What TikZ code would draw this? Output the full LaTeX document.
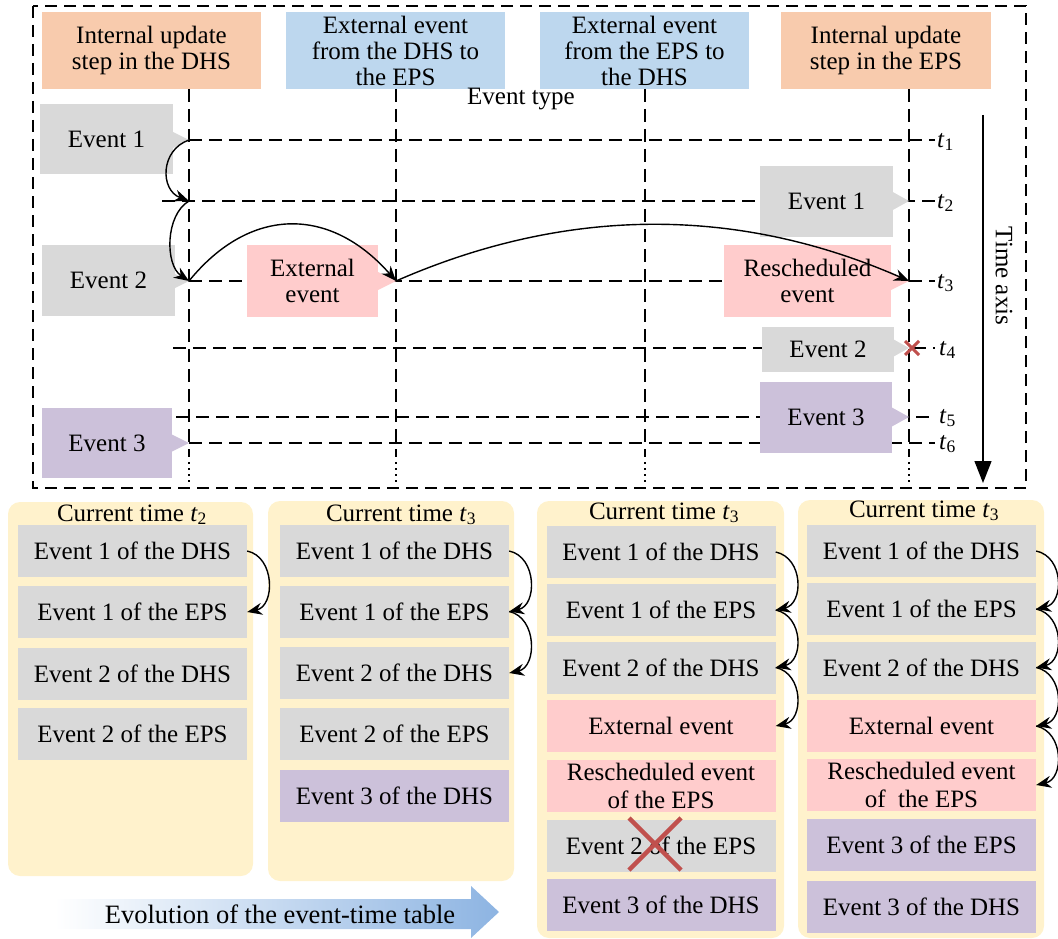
\documentclass[tikz,border=0pt]{standalone}
\usepackage{fontspec}
\setmainfont{Liberation Serif}
\usetikzlibrary{arrows.meta}
\definecolor{evgray}{RGB}{217,217,217}
\definecolor{evpink}{RGB}{255,204,204}
\definecolor{evpurple}{RGB}{204,193,218}
\definecolor{hdorange}{RGB}{248,203,173}
\definecolor{hdblue}{RGB}{189,215,238}
\definecolor{panelbg}{RGB}{255,242,204}
\definecolor{xred}{RGB}{192,80,77}
\definecolor{arrowblue}{RGB}{141,180,226}
\begin{document}
\begin{tikzpicture}[x=1pt,y=-1pt,font=\fontsize{25}{26}\selectfont,
  hdr/.style={inner sep=0pt,align=center,minimum height=77pt},
  evbox/.style={inner sep=0pt,align=center},
  gridline/.style={line width=1.5pt,dash pattern=on 13pt off 7pt},
  dotline/.style={line width=1.5pt,dash pattern=on 2pt off 4pt},
  tlabel/.style={anchor=west,inner sep=0pt},
  tarrow/.style={line width=1.4pt,-{Stealth[length=15pt,width=12pt]}},
  barrow/.style={line width=1.4pt,-{Stealth[length=15pt,width=12pt]}},
  tblrow/.style={inner sep=0pt,minimum width=229pt,minimum height=52pt,align=center,font=\fontsize{25}{28}\selectfont},
  panel/.style={fill=panelbg,rounded corners=12pt},
  title/.style={anchor=base,inner sep=0pt},
  redx/.style={draw=xred,line width=3.5pt}]
\useasboundingbox (0,0) rectangle (1058,939);

% outer dashed frame
\draw[line width=1.5pt,dash pattern=on 12pt off 7pt] (33,6) rectangle (1026,488);

% header boxes
\node[hdr,fill=hdorange,minimum width=219pt] (h1) at (151.5,50.5) {Internal update\\step in the DHS};
\node[hdr,fill=hdblue,minimum width=219pt] (h2) at (395.5,50.5) {External event\\from the DHS to\\the EPS};
\node[hdr,fill=hdblue,minimum width=209pt] (h3) at (644.5,50.5) {External event\\from the EPS to\\the DHS};
\node[hdr,fill=hdorange,minimum width=210pt] (h4) at (886,50.5) {Internal update\\step in the EPS};
\node (etype) at (521,99) {Event type};

% vertical grid lines
\foreach \x in {189,396,645,909}{
  \draw[gridline] (\x,89) -- (\x,457);
  \draw[dotline] (\x,462) -- (\x,482);
}
% horizontal time lines
\draw[gridline] (189,140) -- (935,140);
\draw[gridline] (162,201) -- (935,201);
\draw[gridline] (189,281) -- (935,281);
\draw[gridline] (173,348) -- (935,348);
\draw[gridline] (176,417) -- (935,417);
\draw[gridline] (189,443) -- (935,443);

\node[tlabel] (t1) at (937,142) {\textit{t}\textsubscript{1}};
\node[tlabel] (t2) at (937,203) {\textit{t}\textsubscript{2}};
\node[tlabel] (t3) at (937,283) {\textit{t}\textsubscript{3}};
\node[tlabel] (t4) at (939,350) {\textit{t}\textsubscript{4}};
\node[tlabel] (t5) at (939,418) {\textit{t}\textsubscript{5}};
\node[tlabel] (t6) at (939,444) {\textit{t}\textsubscript{6}};

% tips
\coordinate (tpA) at (189,140);
\coordinate (tpB) at (189,201);
\coordinate (tpC) at (189,281);
\coordinate (tpD) at (396,281);
\coordinate (tpE) at (189,443);
\coordinate (tpF) at (909,201);
\coordinate (tpG) at (909,281);
\coordinate (tpH) at (909,348);
\coordinate (tpI) at (909,417);

% event boxes
\node[evbox,fill=evgray,minimum width=133pt,minimum height=70pt] (le1) at (106.5,139) {Event 1};
\node[evbox,fill=evgray,minimum width=133pt,minimum height=71pt] (le2) at (108.5,280.5) {Event 2};
\node[evbox,fill=evpink,minimum width=131pt,minimum height=72pt] (ext) at (312.5,281) {External\\event};
\node[evbox,fill=evpurple,minimum width=130pt,minimum height=70pt] (le3) at (107,443) {Event 3};
\node[evbox,fill=evgray,minimum width=133pt,minimum height=71pt] (re1) at (826.5,201.5) {Event 1};
\node[evbox,fill=evpink,minimum width=167pt,minimum height=72pt] (resch) at (807.5,281) {Rescheduled\\event};
\node[evbox,fill=evgray,minimum width=132pt,minimum height=45pt] (re2) at (828,349.5) {Event 2};
\node[evbox,fill=evpurple,minimum width=132pt,minimum height=71pt] (re3) at (826,417.5) {Event 3};

\fill[evgray] (tpA) -- ++(-18,-9) -- ++(0,18) -- cycle;
\fill[evgray] (tpC) -- ++(-18,-9) -- ++(0,18) -- cycle;
\fill[evpink] (tpD) -- ++(-18,-9) -- ++(0,18) -- cycle;
\fill[evpurple] (tpE) -- ++(-18,-9) -- ++(0,18) -- cycle;
\fill[evgray] (tpF) -- ++(-18,-10) -- ++(0,20) -- cycle;
\fill[evpink] (tpG) -- ++(-18,-9) -- ++(0,18) -- cycle;
\fill[evgray] (tpH) -- ++(-18,-10) -- ++(0,20) -- cycle;
\fill[evpurple] (tpI) -- ++(-18,-10) -- ++(0,20) -- cycle;

% event arrows
\draw[tarrow] (tpA) .. controls (160,150) and (160,190) .. (tpB);
\draw[tarrow] (tpB) .. controls (165,215) and (165,265) .. (tpC);
\draw[tarrow] (tpC) .. controls (250,206) and (330,206) .. (tpD);
\draw[tarrow] (tpD) .. controls (567,206) and (738,206) .. (tpG);

% cancelled event
\draw[redx,line width=3pt] (905,341) -- (919,355) (905,355) -- (919,341);

% time axis
\coordinate (ta1) at (983,115);
\coordinate (ta2) at (983,483);
\draw[line width=1.3pt,-{Triangle[length=22pt,width=17pt]}] (ta1) -- (ta2);
\node[rotate=-90] (taxis) at (1004,276) {Time axis};

% ---------- event-time tables ----------
\fill[panel] (8,502) rectangle (253,876);
\fill[panel] (268,501) rectangle (514,881);
\fill[panel] (537,501) rectangle (784,938);
\fill[panel] (798,500) rectangle (1044,938);

\node[title] (c1) at (132,521) {Current time \textit{t}\textsubscript{2}};
\node[title] (c2) at (401,521) {Current time \textit{t}\textsubscript{3}};
\node[title] (c3) at (664,519) {Current time \textit{t}\textsubscript{3}};
\node[title] (c4) at (924,517) {Current time \textit{t}\textsubscript{3}};

% panel 1
\node[tblrow,fill=evgray] (a1) at (132.5,551) {Event 1 of the DHS};
\node[tblrow,fill=evgray] (a2) at (132.5,612) {Event 1 of the EPS};
\node[tblrow,fill=evgray] (a3) at (132.5,673.5) {Event 2 of the DHS};
\node[tblrow,fill=evgray] (a4) at (132.5,733.5) {Event 2 of the EPS};
% panel 2
\node[tblrow,fill=evgray] (b1) at (394.5,551) {Event 1 of the DHS};
\node[tblrow,fill=evgray] (b2) at (394.5,611.5) {Event 1 of the EPS};
\node[tblrow,fill=evgray] (b3) at (394.5,673) {Event 2 of the DHS};
\node[tblrow,fill=evgray] (b4) at (394.5,734) {Event 2 of the EPS};
\node[tblrow,fill=evpurple] (b5) at (394.5,796) {Event 3 of the DHS};
% panel 3
\node[tblrow,fill=evgray] (d1) at (661,552) {Event 1 of the DHS};
\node[tblrow,fill=evgray] (d2) at (661,610) {Event 1 of the EPS};
\node[tblrow,fill=evgray] (d3) at (661,667.5) {Event 2 of the DHS};
\node[tblrow,fill=evpink] (d4) at (661,726) {External event};
\node[tblrow,fill=evpink] (d5) at (661,786) {Rescheduled event\\of the EPS};
\node[tblrow,fill=evgray] (d6) at (661,846) {Event 2 of the EPS};
\node[tblrow,fill=evpurple] (d7) at (661,905) {Event 3 of the DHS};
% panel 4
\node[tblrow,fill=evgray] (e1) at (921.5,551) {Event 1 of the DHS};
\node[tblrow,fill=evgray] (e2) at (921.5,609) {Event 1 of the EPS};
\node[tblrow,fill=evgray] (e3) at (921.5,667.5) {Event 2 of the DHS};
\node[tblrow,fill=evpink] (e4) at (921.5,726) {External event};
\node[tblrow,fill=evpink] (e5) at (921.5,785) {Rescheduled event\\of~ the EPS};
\node[tblrow,fill=evpurple] (e6) at (921.5,845) {Event 3 of the EPS};
\node[tblrow,fill=evpurple] (e7) at (921.5,906.5) {Event 3 of the DHS};

% cross on removed event
\draw[redx,line width=4.5pt] (629,818) -- (681,870) (629,870) -- (681,818);

% table arrows
\draw[barrow] (a1.east) .. controls +(28,6) and +(28,-6) .. (a2.east);
\draw[barrow] (b1.east) .. controls +(28,6) and +(28,-6) .. (b2.east);
\draw[barrow] (b2.east) .. controls +(28,6) and +(28,-6) .. (b3.east);
\draw[barrow] (d1.east) .. controls +(28,6) and +(28,-6) .. (d2.east);
\draw[barrow] (d2.east) .. controls +(28,6) and +(28,-6) .. (d3.east);
\draw[barrow] (d3.east) .. controls +(28,6) and +(28,-6) .. (d4.east);
\draw[barrow] (e1.east) .. controls +(28,6) and +(28,-6) .. (e2.east);
\draw[barrow] (e2.east) .. controls +(28,6) and +(28,-6) .. (e3.east);
\draw[barrow] (e3.east) .. controls +(28,6) and +(28,-6) .. (e4.east);
\draw[barrow] (e4.east) .. controls +(28,6) and +(28,-6) .. (e5.east);

% evolution arrow
\shade[left color=white,right color=arrowblue] (55,899) -- (471,899) -- (471,886) -- (499,912) -- (471,938) -- (471,929) -- (55,929) -- cycle;
\node[font=\fontsize{26.5}{28}\selectfont] (evo) at (280,914) {Evolution of the event-time table};
\end{tikzpicture}
\end{document}
